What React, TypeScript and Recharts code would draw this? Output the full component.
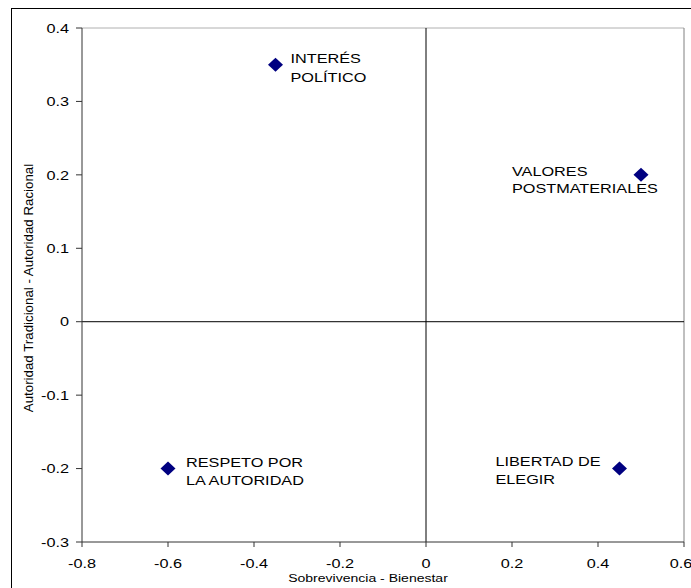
import React from "react";
import {
  ScatterChart,
  Scatter,
  XAxis,
  YAxis,
  ReferenceLine,
} from "recharts";

const pointX = [-0.35, 0.5, -0.6, 0.45];
const pointY = [0.35, 0.2, -0.2, -0.2];
const pointLabels = [
  ["INTERÉS", "POLÍTICO"],
  ["VALORES", "POSTMATERIALES"],
  ["RESPETO POR", "LA AUTORIDAD"],
  ["LIBERTAD DE", "ELEGIR"],
];
const xTicks = [-0.8, -0.6, -0.4, -0.2, 0, 0.2, 0.4, 0.6];
const yTicks = [-0.3, -0.2, -0.1, 0, 0.1, 0.2, 0.3, 0.4];
const xTitle = "Sobrevivencia - Bienestar";
const yTitle = "Autoridad Tradicional - Autoridad Racional";

const data = pointX.map((x, i) => ({ x, y: pointY[i], lines: pointLabels[i] }));

// label placement relative to marker (dx start, dy of line centers)
const labelLayout = [
  { dx: 15, dy: [-6, 13] },
  { dx: -129, dy: [-4, 13] },
  { dx: 18, dy: [-6, 12] },
  { dx: -124, dy: [-7, 11] },
];

const FONT = "'Liberation Sans', Arial, sans-serif";
const SX = 1.25;

const StretchText = ({ x, y, anchor, size, sx, children }: any) => (
  <g transform={`translate(${x},${y}) scale(${sx ?? SX},1)`}>
    <text x={0} y={0} textAnchor={anchor} fontFamily={FONT} fontSize={size} fill="#000">
      {children}
    </text>
  </g>
);

const Marker = (props: any) => {
  const { cx, cy, index } = props;
  const lay = labelLayout[index];
  const lines: string[] = props.payload.lines;
  return (
    <g>
      <polygon
        points={`${cx},${cy - 7} ${cx + 7.5},${cy} ${cx},${cy + 7} ${cx - 7.5},${cy}`}
        fill="#000080"
      />
      {lines.map((l, k) => (
        <StretchText key={k} x={cx + lay.dx} y={cy + lay.dy[k] + 4.7} anchor="start" size={13}>
          {l}
        </StretchText>
      ))}
    </g>
  );
};

const XTick = (props: any) => {
  const { x, y, payload } = props;
  return (
    <StretchText x={x} y={y + 21} anchor="middle" size={13}>
      {String(payload.value)}
    </StretchText>
  );
};

const YTick = (props: any) => {
  const { x, y, payload } = props;
  return (
    <StretchText x={x - 7} y={y + 4.7} anchor="end" size={13}>
      {String(payload.value)}
    </StretchText>
  );
};

const XTitle = (props: any) => {
  const vb = props.viewBox;
  return (
    <StretchText x={vb.x + vb.width / 2 - 15} y={vb.y + 40} anchor="middle" size={11.5} sx={1.22}>
      {xTitle}
    </StretchText>
  );
};

const YTitle = (props: any) => {
  const vb = props.viewBox;
  const cx = vb.x + 28;
  const cy = vb.y + vb.height / 2 + 3;
  return (
    <text
      x={cx}
      y={cy}
      transform={`rotate(-90,${cx},${cy})`}
      textAnchor="middle"
      dominantBaseline="central"
      fontFamily={FONT}
      fontSize={13.3}
      fill="#000"
    >
      {yTitle}
    </text>
  );
};

export default function App() {
  return (
    <div
      style={{
        position: "absolute",
        left: 0,
        top: 0,
        width: 691,
        height: 588,
        overflow: "hidden",
        background: "#fff",
      }}
    >
      <div
        style={{
          position: "absolute",
          left: 11,
          top: 8,
          width: 700,
          height: 600,
          border: "1px solid #000",
          boxSizing: "border-box",
        }}
      />
      <div style={{ position: "absolute", left: 0, top: 0 }}>
        <ScatterChart
          width={691}
          height={588}
          margin={{ top: 28, right: 7, bottom: 0, left: 0 }}
        >
          <XAxis
            type="number"
            dataKey="x"
            domain={[-0.8, 0.6]}
            ticks={xTicks}
            allowDataOverflow
            height={46}
            tickSize={5}
            tickMargin={0}
            stroke="#333"
            tickLine={{ stroke: "#333" }}
            axisLine={{ stroke: "#333" }}
            tick={<XTick />}
            label={<XTitle />}
          />
          <YAxis
            type="number"
            dataKey="y"
            domain={[-0.3, 0.4]}
            ticks={yTicks}
            allowDataOverflow
            width={82}
            tickSize={6}
            tickMargin={0}
            stroke="#333"
            tickLine={{ stroke: "#333" }}
            axisLine={{ stroke: "#333" }}
            tick={<YTick />}
            label={<YTitle />}
          />
          <ReferenceLine y={0.4} stroke="#b0b0b0" strokeWidth={1} />
          <ReferenceLine x={0.6} stroke="#808080" strokeWidth={1} />
          <ReferenceLine x={0} stroke="#000" strokeWidth={1} />
          <ReferenceLine y={0} stroke="#000" strokeWidth={1} />
          <Scatter data={data} isAnimationActive={false} shape={<Marker />} />
        </ScatterChart>
      </div>
    </div>
  );
}
